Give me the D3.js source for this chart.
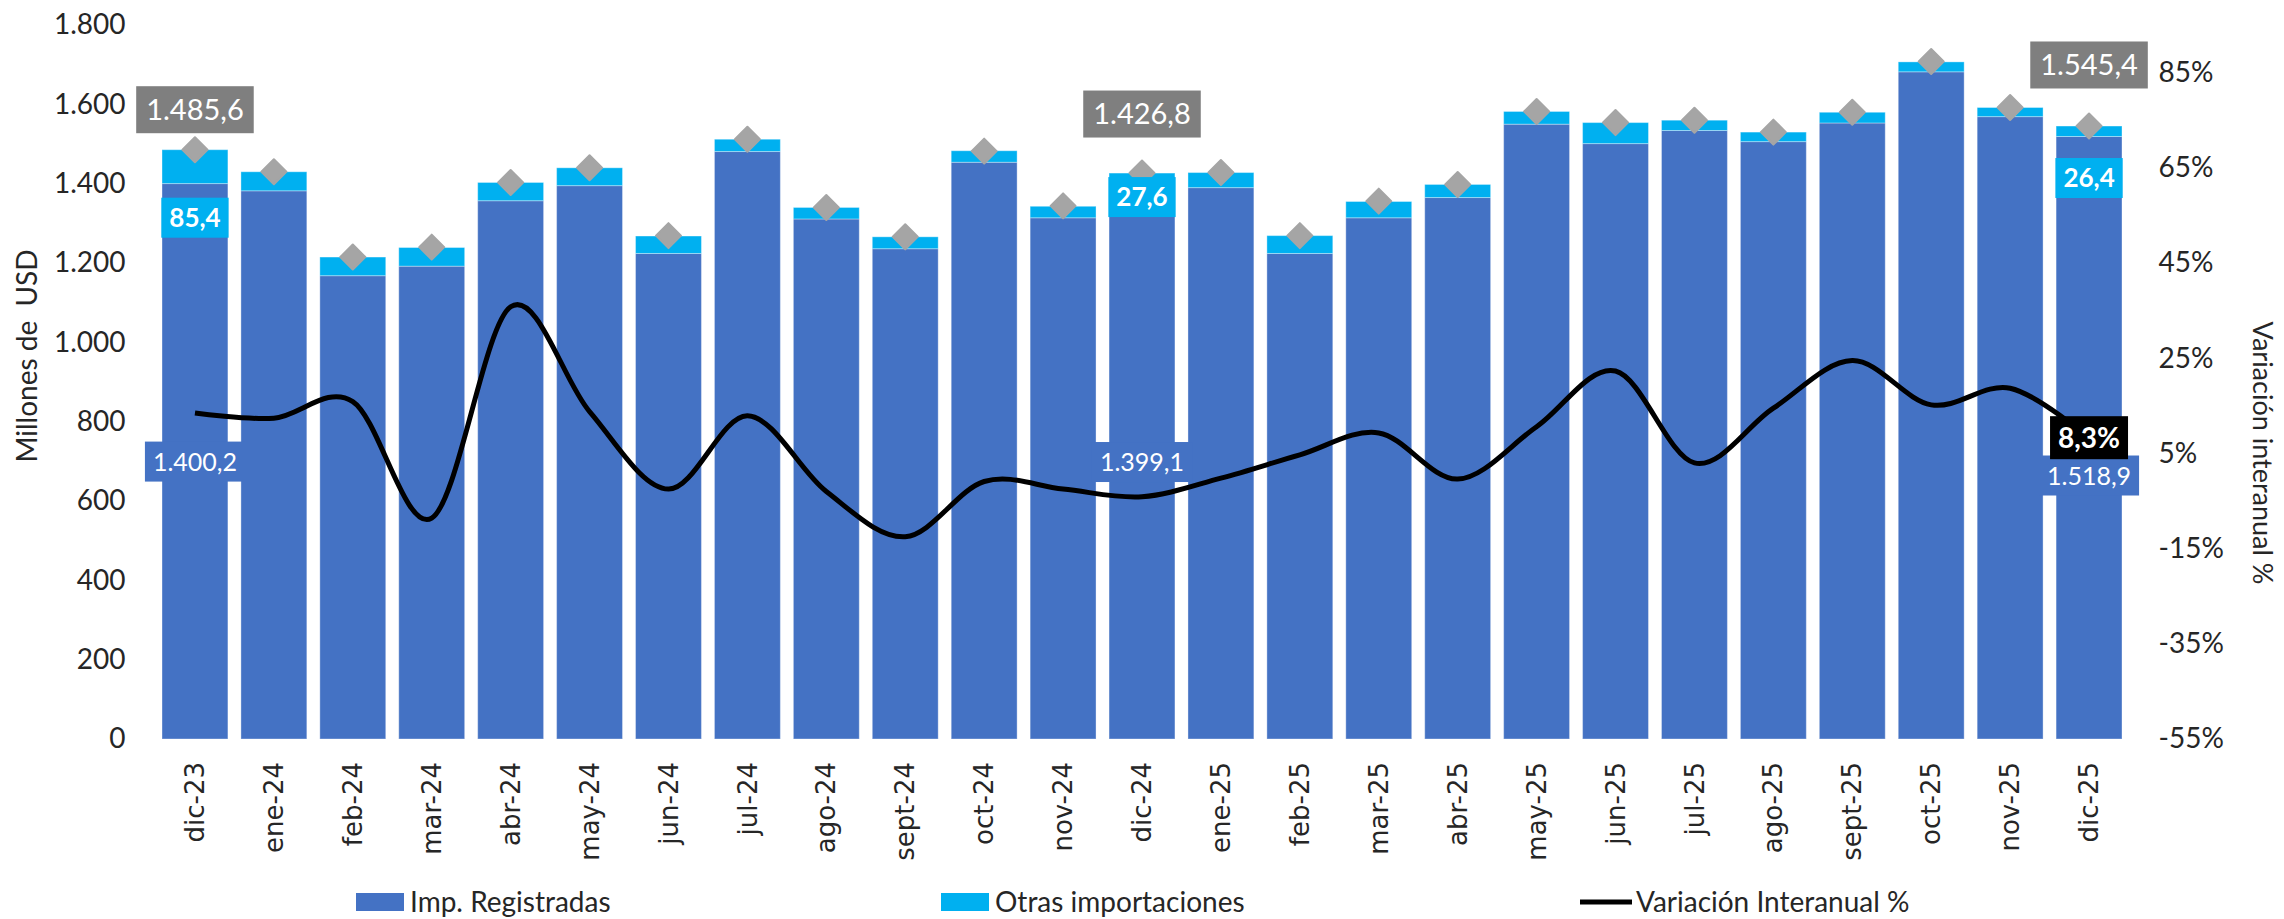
<!DOCTYPE html>
<html>
<head>
<meta charset="utf-8">
<script src="https://cdn.jsdelivr.net/npm/d3@7"></script>
<style>
  body { margin: 0; background: #fff; }
  text { font-family: Lato, "Open Sans", sans-serif; fill: #262626; }
</style>
</head>
<body>
<div class="chart"></div>
<script>
var months = ["dic-23", "ene-24", "feb-24", "mar-24", "abr-24", "may-24", "jun-24", "jul-24",
  "ago-24", "sept-24", "oct-24", "nov-24", "dic-24", "ene-25", "feb-25", "mar-25", "abr-25",
  "may-25", "jun-25", "jul-25", "ago-25", "sept-25", "oct-25", "nov-25", "dic-25"];

var impRegistradas = [1400.2, 1382, 1168, 1192, 1357, 1395, 1224, 1481, 1311, 1236, 1454, 1314,
  1399.1, 1390, 1224, 1314, 1365, 1550, 1501, 1534, 1506, 1553, 1682, 1569, 1518.9];

var otrasImportaciones = [85.4, 48, 47, 47, 46, 45, 44, 31, 29, 30, 29, 29,
  27.6, 38, 45, 41, 33, 32, 53, 26, 24, 27, 25, 23, 26.4];

var totalImportaciones = [1485.6, 1430, 1215, 1240, 1403, 1440, 1269, 1512, 1340, 1266, 1482, 1344,
  1426.8, 1428, 1269, 1356, 1398, 1582, 1554, 1560, 1530, 1580, 1708, 1592, 1545.4];

var variacion = [13.5, 12.4, 15.9, -8.6, 35.8, 13.8, -2.5, 12.9, -3.0, -12.5, -0.9, -2.5,
  -4.1, -0.2, 4.7, 9.3, -0.4, 10.6, 22.3, 3.0, 14.5, 24.5, 15.2, 18.7, 8.3];

var leftTicks = [0, 200, 400, 600, 800, 1000, 1200, 1400, 1600, 1800];
var rightTicks = [-55, -35, -15, 5, 25, 45, 65, 85];

var width = 2284;
var height = 919;
var plot = { left: 155.5, right: 2128.5, top: 25, bottom: 739 };

var colors = { reg: "#4472C4", otras: "#00B0F0", total: "#A5A5A5", line: "#000000" };

var es = d3.formatLocale({ decimal: ",", thousands: ".", grouping: [3], currency: ["", ""] });
var fmtAxis = es.format(",.0f");
var fmtVal = es.format(",.1f");
var fmtPct = function (d) { return es.format(".1f")(d) + "%"; };

var svg = d3.select(".chart").append("svg").attr("width", width).attr("height", height);

var x = d3.scaleBand().domain(months).range([plot.left, plot.right])
  .paddingInner(0.165).paddingOuter(0.0825);
var yLeft = d3.scaleLinear().domain([0, 1800]).range([plot.bottom, plot.top]);
var yRight = d3.scaleLinear().domain([-55, 95]).range([plot.bottom, plot.top]);

function cx(i) {
  return x(months[i]) + x.bandwidth() / 2;
}

// stacked bars
var rows = months.map(function (m, i) {
  return { month: m, reg: impRegistradas[i], otras: otrasImportaciones[i] };
});
var series = d3.stack().keys(["reg", "otras"])(rows);

svg.append("g").attr("class", "bars")
  .selectAll("g")
  .data(series)
  .enter()
  .append("g")
  .attr("fill", function (d) { return colors[d.key]; })
  .selectAll("rect")
  .data(function (d) { return d; })
  .enter()
  .append("rect")
  .attr("x", function (d) { return x(d.data.month); })
  .attr("y", function (d) { return yLeft(d[1]); })
  .attr("width", x.bandwidth())
  .attr("height", function (d) { return yLeft(d[0]) - yLeft(d[1]); })
  .attr("stroke", "rgba(255,255,255,0.35)")
  .attr("stroke-width", 1);

// variation line
var line = d3.line()
  .x(function (d, i) { return cx(i); })
  .y(function (d) { return yRight(d); })
  .curve(d3.curveCatmullRom.alpha(0));

svg.append("path")
  .datum(variacion)
  .attr("fill", "none")
  .attr("stroke", colors.line)
  .attr("stroke-width", 5)
  .attr("stroke-linejoin", "round")
  .attr("d", line);

// total markers
var diamond = d3.symbol().type(d3.symbolSquare).size(313);
svg.append("g").attr("class", "totals")
  .selectAll("path")
  .data(totalImportaciones)
  .enter()
  .append("path")
  .attr("d", diamond)
  .attr("fill", colors.total)
  .attr("stroke", colors.total)
  .attr("stroke-width", 2)
  .attr("stroke-linejoin", "round")
  .attr("transform", function (d, i) {
    return "translate(" + cx(i) + "," + yLeft(d) + ") rotate(45)";
  });

// axes
var axisLeft = svg.append("g")
  .attr("transform", "translate(" + plot.left + ",0)")
  .call(d3.axisLeft(yLeft).tickValues(leftTicks).tickFormat(fmtAxis).tickSize(0).tickPadding(30));
var axisRight = svg.append("g")
  .attr("transform", "translate(" + plot.right + ",0)")
  .call(d3.axisRight(yRight).tickValues(rightTicks).tickFormat(function (d) { return d + "%"; })
    .tickSize(0).tickPadding(30));
var axisBottom = svg.append("g")
  .attr("transform", "translate(0," + plot.bottom + ")")
  .call(d3.axisBottom(x).tickSize(0));

[axisLeft, axisRight, axisBottom].forEach(function (a) {
  a.select(".domain").remove();
  a.attr("font-family", null).attr("font-size", null);
});
axisLeft.selectAll("text").style("font-size", "28px").attr("fill", "#262626");
axisRight.selectAll("text").style("font-size", "28px").attr("fill", "#262626");
axisBottom.selectAll("text")
  .style("font-family", "'DejaVu Sans', sans-serif")
  .style("font-size", "26px")
  .attr("fill", "#262626")
  .attr("transform", "rotate(-90)")
  .attr("text-anchor", "end")
  .attr("x", -23)
  .attr("y", 0)
  .attr("dy", "0.35em");

svg.append("text")
  .attr("transform", "translate(27,356) rotate(-90)")
  .attr("text-anchor", "middle")
  .attr("dy", "0.35em")
  .style("font-size", "28px")
  .style("white-space", "pre")
  .text("Millones de  USD");

svg.append("text")
  .attr("transform", "translate(2262,453) rotate(90)")
  .attr("text-anchor", "middle")
  .attr("dy", "0.35em")
  .style("font-size", "27px")
  .text("Variación interanual %");

// data label callouts
var labelStyles = {
  total: { size: 29, weight: 400, fill: "#7F7F7F", padX: 10, h: 47 },
  otras: { size: 26, weight: 700, fill: "#00B0F0", padX: 8, h: 40 },
  reg: { size: 25, weight: 400, fill: "#4472C4", padX: 8, h: 40 },
  variacion: { size: 28, weight: 700, fill: "#000000", padX: 8, h: 43 }
};

var callouts = [
  { kind: "total", i: 0, dy: -40 },
  { kind: "total", i: 12, dy: -59 },
  { kind: "total", i: 24, dy: -61 },
  { kind: "otras", i: 0, dy: 68 },
  { kind: "otras", i: 12, dy: 24 },
  { kind: "otras", i: 24, dy: 52 },
  { kind: "reg", i: 0, dy: 278 },
  { kind: "reg", i: 12, dy: 278 },
  { kind: "reg", i: 24, dy: 339 },
  { kind: "variacion", i: 24, dy: 0 }
];

function anchorOf(c) {
  if (c.kind == "total") return { v: fmtVal(totalImportaciones[c.i]), y: yLeft(totalImportaciones[c.i]) };
  if (c.kind == "otras") return { v: fmtVal(otrasImportaciones[c.i]), y: yLeft(impRegistradas[c.i] + otrasImportaciones[c.i]) };
  if (c.kind == "reg") return { v: fmtVal(impRegistradas[c.i]), y: yLeft(impRegistradas[c.i]) };
  return { v: fmtPct(variacion[c.i]), y: yRight(variacion[c.i]) };
}

var labels = svg.append("g").attr("class", "labels");
callouts.forEach(function (c) {
  var st = labelStyles[c.kind];
  var a = anchorOf(c);
  var g = labels.append("g").attr("transform", "translate(" + cx(c.i) + "," + (a.y + c.dy) + ")");
  var box = g.append("rect").attr("fill", st.fill);
  var t = g.append("text")
    .attr("text-anchor", "middle")
    .attr("dy", "0.36em")
    .style("font-size", st.size + "px")
    .style("font-weight", st.weight)
    .style("fill", "#fff")
    .text(a.v);
  var w = t.node().getBBox().width + st.padX * 2;
  box.attr("x", -w / 2).attr("y", -st.h / 2).attr("width", w).attr("height", st.h);
});

// legend
var legend = svg.append("g").attr("class", "legend");
var legendItems = [
  { name: "Imp. Registradas", type: "rect", color: colors.reg, x: 356 },
  { name: "Otras importaciones", type: "rect", color: colors.otras, x: 941 },
  { name: "Variación Interanual %", type: "line", color: colors.line, x: 1580 }
];
legendItems.forEach(function (d) {
  if (d.type == "rect") {
    legend.append("rect").attr("x", d.x).attr("y", 893).attr("width", 48).attr("height", 18).attr("fill", d.color);
  } else {
    legend.append("line").attr("x1", d.x).attr("x2", d.x + 52).attr("y1", 902).attr("y2", 902)
      .attr("stroke", d.color).attr("stroke-width", 5);
  }
  legend.append("text")
    .attr("x", d.x + (d.type == "rect" ? 54 : 56))
    .attr("y", 902)
    .attr("dy", "0.35em")
    .style("font-size", "28px")
    .text(d.name);
});
</script>
</body>
</html>
